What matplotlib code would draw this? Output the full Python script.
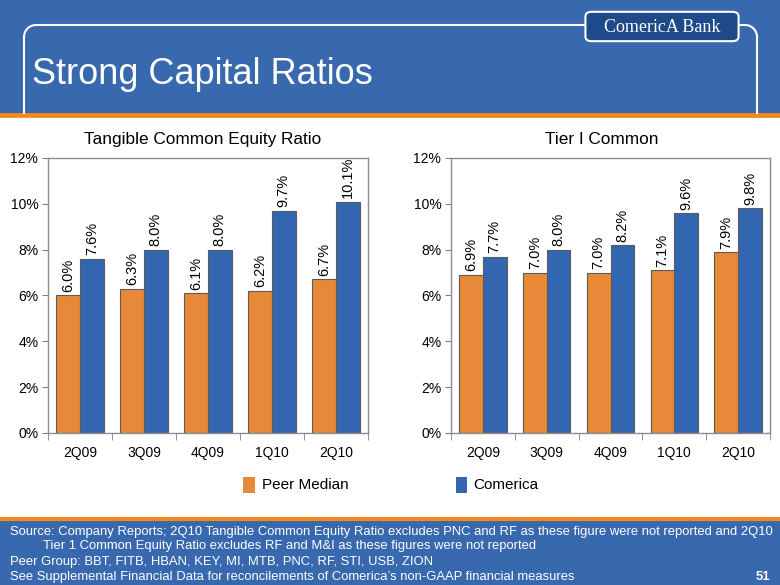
import matplotlib.pyplot as plt
from matplotlib.patches import Rectangle, FancyBboxPatch
from matplotlib.lines import Line2D
import numpy as np

plt.rcParams['font.family'] = ['Liberation Sans', 'DejaVu Sans']

# data
quarters = ['2Q09', '3Q09', '4Q09', '1Q10', '2Q10']
tce_peer = [6.0, 6.3, 6.1, 6.2, 6.7]
tce_comerica = [7.6, 8.0, 8.0, 9.7, 10.1]
tier1_peer = [6.9, 7.0, 7.0, 7.1, 7.9]
tier1_comerica = [7.7, 8.0, 8.2, 9.6, 9.8]
yticks = [0, 2, 4, 6, 8, 10, 12]

ORANGE = '#E8893A'
BLUE = '#3366B0'
BG = '#3868AE'

W, H = 780, 585
fig = plt.figure(figsize=(7.8, 5.85), dpi=100)
fig.patch.set_facecolor(BG)


def fx(px):
    return px / W


def fy(py):
    return 1 - py / H


# white body and orange rules
fig.patches.append(Rectangle((0, fy(519)), 1, fy(116) - fy(519), transform=fig.transFigure,
                             facecolor='white', edgecolor='none', zorder=-5))
fig.add_artist(Line2D([0, 1], [fy(115), fy(115)], color='#F28A1E', lw=3.5, transform=fig.transFigure))
fig.add_artist(Line2D([0, 1], [fy(519), fy(519)], color='#F28A1E', lw=3, transform=fig.transFigure))

# header outline with rounded corners
r = 12
outline = [((fx(24), fx(24)), (fy(113), fy(25 + r))),
           ((fx(24 + r), fx(584)), (fy(25), fy(25))),
           ((fx(740), fx(757 - r)), (fy(25), fy(25))),
           ((fx(757), fx(757)), (fy(25 + r), fy(113)))]
for xs, ys in outline:
    fig.add_artist(Line2D(xs, ys, color='white', lw=1.5, transform=fig.transFigure))
t = np.linspace(0, np.pi / 2, 20)
fig.add_artist(Line2D(fx(24 + r - r * np.cos(t)), fy(25 + r - r * np.sin(t)),
                      color='white', lw=1.5, transform=fig.transFigure))
fig.add_artist(Line2D(fx(757 - r + r * np.cos(t)), fy(25 + r - r * np.sin(t)),
                      color='white', lw=1.5, transform=fig.transFigure))

# logo box
fig.patches.append(FancyBboxPatch((fx(587), fy(40)), fx(150), fy(13) - fy(40),
                                  boxstyle='round,pad=0.002,rounding_size=0.008',
                                  transform=fig.transFigure, facecolor='#1E4A8A',
                                  edgecolor='white', lw=1.5, zorder=2))
fig.text(fx(662), fy(27), 'ComericA Bank', color='white', fontsize=13,
         family='Liberation Serif', ha='center', va='center', zorder=3)

fig.text(fx(32), fy(75), 'Strong Capital Ratios', color='white', fontsize=26,
         ha='left', va='center')


def draw_panel(rect, title, peer, com, title_x):
    ax = fig.add_axes(rect, zorder=3)
    ax.set_facecolor('white')
    x = np.arange(len(quarters))
    w = 0.37
    b1 = ax.bar(x - w / 2, peer, w, color=ORANGE, edgecolor='#5A5A5A', lw=0.8, zorder=2)
    b2 = ax.bar(x + w / 2, com, w, color=BLUE, edgecolor='#5A5A5A', lw=0.8, zorder=2)
    for bars, vals in ((b1, peer), (b2, com)):
        for bar, v in zip(bars, vals):
            ax.text(bar.get_x() + bar.get_width() / 2, v + 0.15, f'{v:.1f}%',
                    rotation=90, ha='center', va='bottom', fontsize=10.5)
    ax.set_xlim(-0.5, len(quarters) - 0.5)
    ax.set_ylim(0, 12)
    ax.set_yticks(yticks)
    ax.set_yticklabels([f'{v}%' for v in yticks], fontsize=10)
    ax.set_xticks(x)
    ax.set_xticklabels(quarters, fontsize=10)
    ax.set_xticks(np.arange(-0.5, len(quarters)), minor=True)
    ax.tick_params(axis='x', which='major', length=0, pad=9)
    ax.tick_params(axis='x', which='minor', length=5, direction='out', color='#808080')
    ax.tick_params(axis='y', length=4, direction='out', color='#808080', pad=3)
    for s in ax.spines.values():
        s.set_color('#8C8C8C')
        s.set_linewidth(1)
    ax.set_title(title, fontsize=12.4, pad=10, x=title_x)
    return ax


draw_panel([fx(48), fy(433), fx(320), fy(158) - fy(433)],
           'Tangible Common Equity Ratio', tce_peer, tce_comerica, 0.484)
draw_panel([fx(451), fy(433), fx(319), fy(158) - fy(433)],
           'Tier I Common', tier1_peer, tier1_comerica, 0.473)

# legend
fig.patches.append(Rectangle((fx(243), fy(493)), fx(12), fy(477) - fy(493),
                             transform=fig.transFigure, facecolor=ORANGE, edgecolor='none'))
fig.text(fx(262), fy(485), 'Peer Median', fontsize=11, va='center')
fig.patches.append(Rectangle((fx(456), fy(493)), fx(11), fy(477) - fy(493),
                             transform=fig.transFigure, facecolor=BLUE, edgecolor='none'))
fig.text(fx(473), fy(485), 'Comerica', fontsize=11, va='center')

# footer notes
notes = [
    (10, 532, 'Source: Company Reports; 2Q10 Tangible Common Equity Ratio excludes PNC and RF as these figure were not reported and 2Q10'),
    (43, 546, 'Tier 1 Common Equity Ratio excludes RF and M&I as these figures were not reported'),
    (10, 562, 'Peer Group: BBT, FITB, HBAN, KEY, MI, MTB, PNC, RF, STI, USB, ZION'),
    (10, 577, 'See Supplemental Financial Data for reconcilements of Comerica\u2019s non-GAAP financial measures'),
]
for px, py, s in notes:
    fig.text(fx(px), fy(py), s, color='white', fontsize=9.4, va='center')
fig.text(fx(770), fy(577), '51', color='white', fontsize=9.4, va='center', ha='right', weight='bold')

fig.savefig('out.png', dpi=100, facecolor=fig.get_facecolor())
